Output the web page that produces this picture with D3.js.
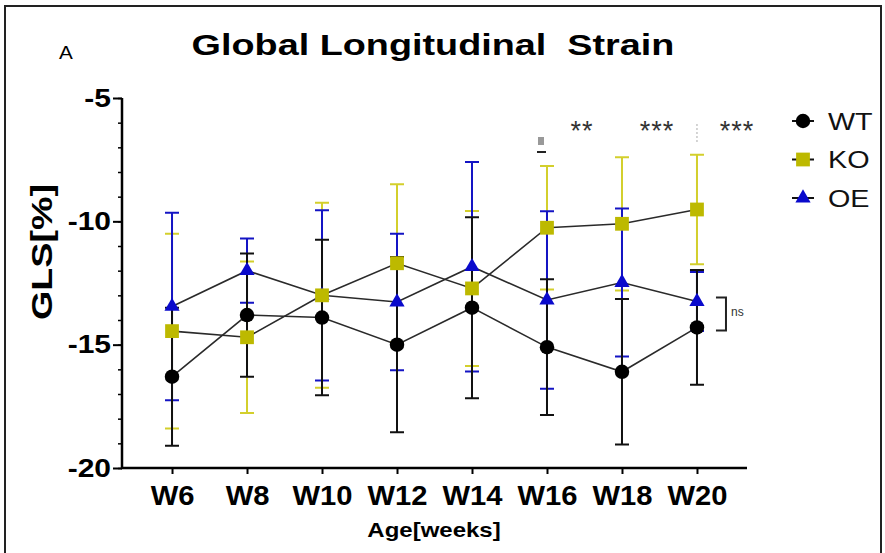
<!DOCTYPE html>
<html>
<head>
<meta charset="utf-8">
<script src="https://cdn.jsdelivr.net/npm/d3@7"></script>
<style>
  html, body { margin: 0; padding: 0; background: #fff; }
  text { font-family: "Liberation Sans", Arial, sans-serif; }
</style>
</head>
<body>
<div id="chart"></div>
<script>
// values (GLS %, mean and SD per age)
const weeks = ["W6", "W8", "W10", "W12", "W14", "W16", "W18", "W20"];
const wtMean = [-16.3, -13.8, -13.9, -15.0, -13.5, -15.1, -16.1, -14.3];
const wtSd = [2.8, 2.5, 3.15, 3.55, 3.67, 2.75, 2.95, 2.33];
const koMean = [-14.45, -14.7, -13.0, -11.7, -12.72, -10.26, -10.1, -9.52];
const koSd = [3.95, 3.07, 3.75, 3.2, 3.14, 2.5, 2.7, 2.22];
const oeMean = [-13.45, -12.0, -13.0, -13.27, -11.84, -13.19, -12.48, -13.25];
const oeSd = [3.8, 1.3, 3.45, 2.77, 4.25, 3.6, 3.0, 1.2];
const yTicks = [-20, -15, -10, -5];
const sigWeeks = ["W16", "W18", "W20"];
const sigText = ["**", "***", "***"];

const series = [
    { name: "KO", mean: koMean, sd: koSd, color: "#bdb900", bar: "#d3cf2c", shape: d3.symbolSquare, size: 190 },
    { name: "OE", mean: oeMean, sd: oeSd, color: "#0a0acc", bar: "#1414c4", shape: d3.symbolTriangle, size: 100 },
    { name: "WT", mean: wtMean, sd: wtSd, color: "#000", bar: "#111", shape: d3.symbolCircle, size: 165 }
];
const legendOrder = ["WT", "KO", "OE"];

const svg = d3.select("#chart").append("svg")
    .attr("width", 885)
    .attr("height", 553);

// outer frame
svg.append("rect")
    .attr("x", 5).attr("y", 6)
    .attr("width", 876).attr("height", 620)
    .attr("fill", "none")
    .attr("stroke", "#222")
    .attr("stroke-width", 2);

const x = d3.scalePoint().domain(weeks).range([122, 747]).padding(0.667);
const y = d3.scaleLinear().domain([-20, -5]).range([468, 98]);

// stretch text horizontally (the figure's lettering is wide)
function stretch(sel, sx) {
    sel.each(function () {
        const t = d3.select(this);
        const tx = +t.attr("x") || 0;
        const ty = +t.attr("y") || 0;
        t.attr("x", 0).attr("y", 0)
            .attr("transform", `translate(${tx},${ty}) scale(${sx},1)`);
    });
}

// title + panel letter
svg.append("text")
    .attr("x", 433).attr("y", 55)
    .attr("text-anchor", "middle")
    .attr("font-size", 30)
    .attr("font-weight", "bold")
    .style("white-space", "pre")
    .text("Global Longitudinal  Strain")
    .call(stretch, 1.26);

svg.append("text")
    .attr("x", 66).attr("y", 59)
    .attr("text-anchor", "middle")
    .attr("font-size", 18)
    .text("A")
    .call(stretch, 1.15);

// axes
const yMinor = svg.append("g")
    .attr("transform", "translate(122,0)")
    .call(d3.axisLeft(y).tickValues(d3.range(-20, -4, 1)).tickSize(4).tickFormat(""));
yMinor.select(".domain").remove();
yMinor.selectAll("line").attr("stroke-width", 1.5);

const yAxis = svg.append("g")
    .attr("transform", "translate(122,0)")
    .call(d3.axisLeft(y).tickValues(yTicks).tickSize(9).tickPadding(2).tickSizeOuter(0)
        .tickFormat((d) => String(d)));
yAxis.select(".domain").attr("stroke-width", 2.5).attr("d", `M0,${y(-5)}V${y(-20) + 1}`);
yAxis.selectAll(".tick line").attr("stroke-width", 2);
yAxis.selectAll(".tick text")
    .attr("font-size", 25)
    .attr("font-weight", "bold")
    .attr("fill", "#000")
    .call(stretch, 1.2);

const xAxis = svg.append("g")
    .attr("transform", `translate(0,${y(-20)})`)
    .call(d3.axisBottom(x).tickSize(6).tickPadding(12).tickSizeOuter(0));
xAxis.select(".domain").attr("stroke-width", 2.5).attr("d", "M121,0H747");
xAxis.selectAll(".tick line").attr("stroke-width", 2);
xAxis.selectAll(".tick text")
    .attr("font-size", 27)
    .attr("font-weight", "bold")
    .attr("fill", "#000")
    .call(stretch, 1.08);

svg.append("text")
    .attr("x", 434).attr("y", 537)
    .attr("text-anchor", "middle")
    .attr("font-size", 20)
    .attr("font-weight", "bold")
    .text("Age[weeks]")
    .call(stretch, 1.2);

svg.append("text")
    .attr("transform", "translate(52,252) rotate(-90) scale(1.3,1)")
    .attr("text-anchor", "middle")
    .attr("font-size", 29)
    .attr("font-weight", "bold")
    .text("GLS[%]");

// error bars
const cap = 7;
const bars = svg.append("g");
series.forEach((s) => {
    const g = bars.append("g").attr("stroke", s.bar).attr("stroke-width", 2);
    weeks.forEach((w, i) => {
        const hi = y(s.mean[i] + s.sd[i]);
        const lo = y(s.mean[i] - s.sd[i]);
        const cx = x(w);
        g.append("path")
            .attr("fill", "none")
            .attr("d", `M${cx},${hi}V${lo}M${cx - cap},${hi}H${cx + cap}M${cx - cap},${lo}H${cx + cap}`);
    });
});

// connecting lines
const line = d3.line().x((d, i) => x(weeks[i])).y((d) => y(d));
series.forEach((s) => {
    svg.append("path")
        .datum(s.mean)
        .attr("fill", "none")
        .attr("stroke", "#2a2a2a")
        .attr("stroke-width", 1.6)
        .attr("d", line);
});

// markers (OE under KO under WT)
["OE", "KO", "WT"].forEach((n) => {
    const s = series.find((d) => d.name === n);
    svg.append("g").selectAll("path")
        .data(s.mean)
        .join("path")
        .attr("transform", (d, i) => `translate(${x(weeks[i])},${y(d)})`)
        .attr("d", d3.symbol(s.shape, s.size))
        .attr("fill", s.color);
});

// significance marks
svg.append("g").selectAll("text")
    .data(sigWeeks)
    .join("text")
    .attr("x", (d, i) => x(d) + (i === 2 ? 40 : 35))
    .attr("y", 140)
    .attr("text-anchor", "middle")
    .attr("font-size", 27)
    .attr("fill", "#333")
    .attr("letter-spacing", 1)
    .text((d, i) => sigText[i]);

// small stray marks above W16 and W20
svg.append("rect")
    .attr("x", x("W16") - 9).attr("y", 137)
    .attr("width", 6).attr("height", 8)
    .attr("fill", "#999");
svg.append("line")
    .attr("x1", x("W16") - 10).attr("x2", x("W16") - 1)
    .attr("y1", 152).attr("y2", 152)
    .attr("stroke", "#222").attr("stroke-width", 2);
svg.append("line")
    .attr("x1", x("W20")).attr("x2", x("W20"))
    .attr("y1", 124).attr("y2", 143)
    .attr("stroke", "#aaa").attr("stroke-width", 1)
    .attr("stroke-dasharray", "2,2");

// ns bracket between OE and WT at W20
const bx = x("W20") + 29;
const bTop = y(oeMean[7]) - 4;
const bBot = y(wtMean[7]) + 3;
svg.append("path")
    .attr("d", `M${bx - 10},${bTop}H${bx}V${bBot}H${bx - 10}`)
    .attr("fill", "none")
    .attr("stroke", "#222")
    .attr("stroke-width", 2);
svg.append("text")
    .attr("x", bx + 5).attr("y", (bTop + bBot) / 2 + 2)
    .attr("font-size", 12)
    .attr("fill", "#333")
    .text("ns");

// legend
const legend = svg.append("g");
legendOrder.forEach((n, i) => {
    const s = series.find((d) => d.name === n);
    const ly = 121 + i * 38.5;
    legend.append("line")
        .attr("x1", 792).attr("x2", 814)
        .attr("y1", ly).attr("y2", ly)
        .attr("stroke", "#111").attr("stroke-width", 2);
    legend.append("path")
        .attr("transform", `translate(803,${ly})`)
        .attr("d", d3.symbol(s.shape, s.size))
        .attr("fill", s.color);
    legend.append("text")
        .attr("x", 828).attr("y", ly + 8.5)
        .attr("font-size", 23)
        .attr("fill", "#111")
        .text(n)
        .call(stretch, 1.25);
});
</script>
</body>
</html>
